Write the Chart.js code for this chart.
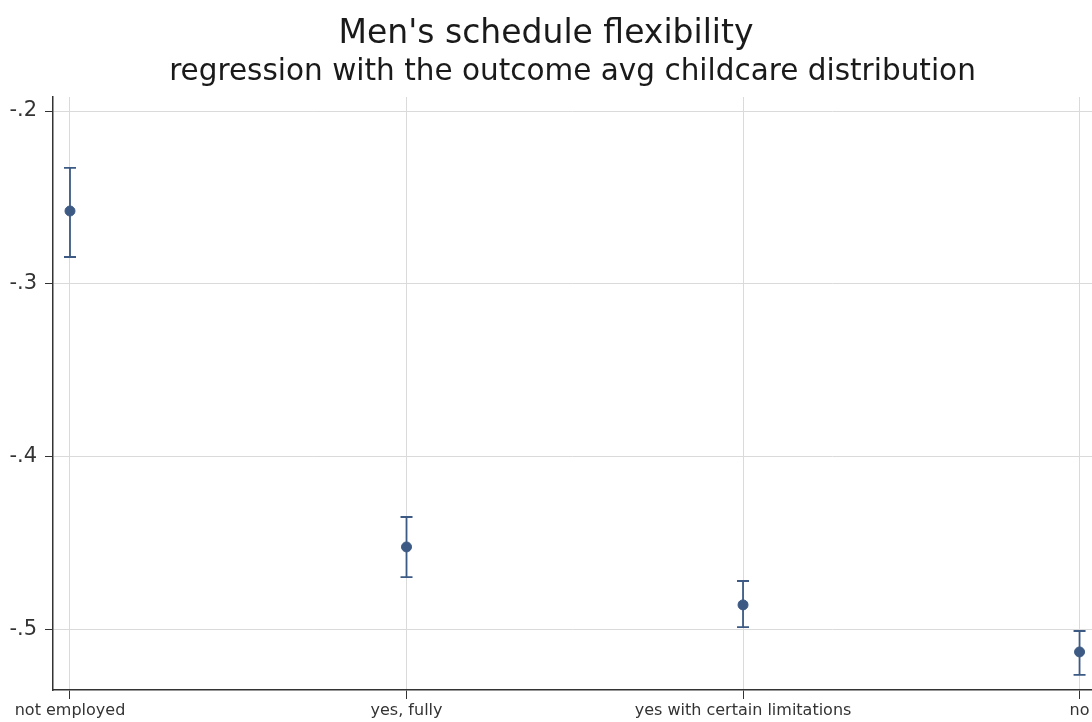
<!DOCTYPE html>
<html>
<head>
<meta charset="utf-8">
<script src="https://cdn.jsdelivr.net/npm/chart.js@4.4.1/dist/chart.umd.min.js"></script>
<style>
  html, body { margin: 0; padding: 0; background: #fff; }
  #wrap { width: 1092px; height: 722px; }
</style>
</head>
<body>
<div id="wrap"><canvas id="chart"></canvas></div>
<script>
const categories = ["not employed", "yes, fully", "yes with certain limitations", "no"];
const estimates = [-0.2578, -0.4520, -0.4855, -0.5127];
const ciUpper = [-0.2329, -0.4347, -0.4717, -0.5006];
const ciLower = [-0.2844, -0.4694, -0.4983, -0.5260];
const yTicks = [-0.5, -0.4, -0.3, -0.2];

const markColor = "#3d5a84";
const fontFamily = "'DejaVu Sans', sans-serif";

// draws the confidence interval whiskers under the points
const errorBars = {
  id: "errorBars",
  beforeDatasetsDraw(chart) {
    const { ctx, scales: { x, y } } = chart;
    ctx.save();
    ctx.strokeStyle = markColor;
    ctx.lineWidth = 1.8;
    categories.forEach((c, i) => {
      const px = x.getPixelForValue(i);
      const top = y.getPixelForValue(ciUpper[i]);
      const bot = y.getPixelForValue(ciLower[i]);
      ctx.beginPath();
      ctx.moveTo(px, top);
      ctx.lineTo(px, bot);
      ctx.moveTo(px - 6, top);
      ctx.lineTo(px + 6, top);
      ctx.moveTo(px - 6, bot);
      ctx.lineTo(px + 6, bot);
      ctx.stroke();
    });
    ctx.restore();
  }
};

new Chart(document.getElementById("chart"), {
  type: "scatter",
  data: {
    datasets: [{
      label: "estimate",
      data: estimates.map((v, i) => ({ x: i, y: v })),
      backgroundColor: markColor,
      borderColor: markColor,
      pointRadius: 5,
      pointHoverRadius: 5
    }]
  },
  options: {
    responsive: true,
    maintainAspectRatio: false,
    animation: false,
    // no auto padding, the plot runs right up to the canvas edge
    layout: { autoPadding: false, padding: 0 },
    plugins: {
      legend: { display: false },
      tooltip: { enabled: false },
      title: {
        display: true,
        text: "Men's schedule flexibility",
        color: "#1a1a1a",
        font: { family: fontFamily, size: 33, weight: "normal" },
        padding: { top: 15, bottom: 0 }
      },
      subtitle: {
        display: true,
        text: "regression with the outcome avg childcare distribution",
        color: "#1a1a1a",
        fullSize: false,
        font: { family: fontFamily, size: 29.5, weight: "normal" },
        padding: { top: 0, bottom: 7 }
      }
    },
    scales: {
      x: {
        type: "linear",
        min: -0.0505,
        max: 3.037,
        afterBuildTicks: (s) => { s.ticks = categories.map((c, i) => ({ value: i })); },
        afterFit: (s) => { s.height = 32; s.paddingLeft = 0; s.paddingRight = 0; },
        ticks: {
          callback: (v) => categories[v],
          color: "#333",
          font: { family: fontFamily, size: 16 },
          padding: 2,
          maxRotation: 0,
          autoSkip: false
        },
        grid: { color: "#dadada", lineWidth: 1, tickColor: "#333", tickLength: 9 },
        border: { color: "#333", width: 1.5 }
      },
      y: {
        min: -0.5347,
        max: -0.1919,
        afterBuildTicks: (s) => { s.ticks = yTicks.map((v) => ({ value: v })); },
        afterFit: (s) => { s.width = 53; s.paddingTop = 0; s.paddingBottom = 0; },
        ticks: {
          callback: (v) => v.toFixed(1).replace("0.", "."),
          color: "#333",
          font: { family: fontFamily, size: 21 },
          padding: 8
        },
        grid: { color: "#dadada", lineWidth: 1, tickColor: "#333", tickLength: 8 },
        border: { color: "#333", width: 1.5 }
      }
    }
  },
  plugins: [errorBars]
});
</script>
</body>
</html>
